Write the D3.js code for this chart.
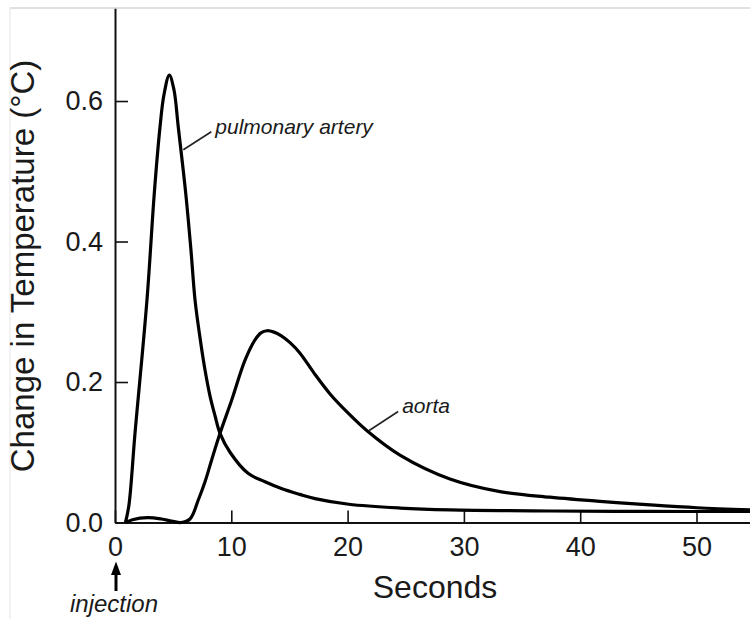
<!DOCTYPE html>
<html>
<head>
<meta charset="utf-8">
<script src="https://cdn.jsdelivr.net/npm/d3@7"></script>
<style>
  html, body { margin: 0; padding: 0; background: #fff; }
  svg { display: block; }
  text { font-family: "Liberation Sans", Arial, Helvetica, sans-serif; fill: #1a1a1a; }
</style>
</head>
<body>
<svg id="chart" width="750" height="619"></svg>
<script>
// Thermodilution curves: temperature change after a cold injection at t = 0
const pulmonaryTime  = [0.9, 1.2, 1.72, 2.75, 3.38, 3.87, 4.21, 4.67, 5.07, 5.44, 6.08, 6.53, 6.88, 7.31, 7.74, 8.17, 8.6, 9.03, 9.89, 11.44, 12.9, 14.36, 15.9, 17.2, 20.1, 24.5, 28.8, 37.4, 46.0, 54.6];
const pulmonaryValue = [0.0, 0.025, 0.127, 0.317, 0.469, 0.563, 0.609, 0.637, 0.616, 0.563, 0.469, 0.388, 0.317, 0.263, 0.217, 0.18, 0.152, 0.127, 0.1, 0.07, 0.058, 0.048, 0.04, 0.034, 0.026, 0.0206, 0.018, 0.0164, 0.0157, 0.0157];

const aortaTime  = [0.9, 1.5, 2.8, 4.0, 5.0, 5.67, 6.45, 7.16, 7.74, 8.31, 9.03, 10.03, 11.18, 12.04, 12.55, 13.07, 13.67, 14.27, 15.05, 15.91, 17.1, 18.49, 20.03, 21.64, 24.5, 28.8, 33.1, 37.4, 41.7, 46.0, 50.04, 54.6];
const aortaValue = [0.0, 0.004, 0.007, 0.005, 0.0015, 0.0, 0.005, 0.032, 0.058, 0.089, 0.127, 0.174, 0.231, 0.26, 0.27, 0.273, 0.271, 0.266, 0.256, 0.241, 0.213, 0.183, 0.156, 0.131, 0.096, 0.062, 0.044, 0.036, 0.03, 0.025, 0.021, 0.018];

const xTicks = [0, 10, 20, 30, 40, 50];
const xTickLabels = ["0", "10", "20", "30", "40", "50"];
const yTicks = [0, 0.2, 0.4, 0.6];
const yTickLabels = ["0.0", "0.2", "0.4", "0.6"];

const xMax = 54.6;
const yMax = 0.732;

const svg = d3.select("#chart");

const margin = { left: 115, top: 8.3, bottom: 522.5, right: 750 };

const x = d3.scaleLinear().domain([0, xMax]).range([margin.left, margin.right]);
const y = d3.scaleLinear().domain([0, yMax]).range([margin.bottom, margin.top]);

// thin frame lines at the top and left edge
svg.append("line").attr("x1", 10).attr("x2", 750).attr("y1", 8).attr("y2", 8)
  .attr("stroke", "#c2c2c2").attr("stroke-width", 1.2);
svg.append("line").attr("x1", 10).attr("x2", 10).attr("y1", 8).attr("y2", 619)
  .attr("stroke", "#e6e6e6").attr("stroke-width", 1);

// axes
const yAxis = d3.axisLeft(y)
  .tickValues(yTicks)
  .tickFormat((d, i) => yTickLabels[i])
  .tickSizeInner(-13)
  .tickSizeOuter(0)
  .tickPadding(12);

const xAxis = d3.axisBottom(x)
  .tickValues(xTicks)
  .tickFormat((d, i) => xTickLabels[i])
  .tickSizeInner(-12)
  .tickSizeOuter(0)
  .tickPadding(14);

const gy = svg.append("g").attr("transform", `translate(${margin.left},0)`).call(yAxis);
const gx = svg.append("g").attr("transform", `translate(0,${margin.bottom})`).call(xAxis);

[gy, gx].forEach(g => {
  g.select(".domain").attr("stroke", "#111").attr("stroke-width", 2);
  g.selectAll(".tick line").attr("stroke", "#111").attr("stroke-width", 1.6);
  g.selectAll(".tick text")
    .attr("font-family", "'Liberation Sans', Arial, sans-serif")
    .attr("font-size", 27)
    .attr("fill", "#2a2a2a");
});

// curves
const line = d3.line()
  .x(d => x(d[0]))
  .y(d => y(d[1]))
  .curve(d3.curveCatmullRom.alpha(0.5));

const pulmonary = d3.zip(pulmonaryTime, pulmonaryValue);
const aorta = d3.zip(aortaTime, aortaValue);

[aorta, pulmonary].forEach(series => {
  svg.append("path").datum(series)
    .attr("d", line)
    .attr("fill", "none")
    .attr("stroke", "#000")
    .attr("stroke-width", 3.2)
    .attr("stroke-linejoin", "round");
});

// labels with leader lines, anchored on the curves
function valueAt(times, values, t) {
  const i = d3.bisectRight(times, t);
  const t0 = times[i - 1], t1 = times[i];
  const v0 = values[i - 1], v1 = values[i];
  return v0 + (v1 - v0) * (t - t0) / (t1 - t0);
}

const annotations = [
  { text: "pulmonary artery", times: pulmonaryTime, values: pulmonaryValue, t: 5.66, dx: 28, dy: -18 },
  { text: "aorta", times: aortaTime, values: aortaValue, t: 21.64, dx: 29, dy: -19 }
];

annotations.forEach(a => {
  const px = x(a.t) + 2.5;
  const py = y(valueAt(a.times, a.values, a.t));
  svg.append("line")
    .attr("x1", px).attr("y1", py)
    .attr("x2", px + a.dx).attr("y2", py + a.dy)
    .attr("stroke", "#222").attr("stroke-width", 1.6);
  svg.append("text")
    .attr("x", px + a.dx + 4)
    .attr("y", py + a.dy + 2)
    .attr("font-size", 21)
    .attr("font-style", "italic")
    .attr("fill", "#222")
    .text(a.text);
});

// injection marker below the origin
const arrowX = x(0) + 1;
svg.append("line")
  .attr("x1", arrowX).attr("x2", arrowX)
  .attr("y1", 591).attr("y2", 572)
  .attr("stroke", "#000").attr("stroke-width", 3);
svg.append("path")
  .attr("d", d3.line()([[arrowX, 561.5], [arrowX - 5, 575], [arrowX + 5, 575]]) + "Z")
  .attr("fill", "#000");
svg.append("text")
  .attr("x", 70).attr("y", 612)
  .attr("font-size", 24)
  .attr("font-style", "italic")
  .attr("fill", "#222")
  .text("injection");

// axis titles
svg.append("text")
  .attr("x", 435).attr("y", 598)
  .attr("text-anchor", "middle")
  .attr("font-size", 32)
  .attr("fill", "#222")
  .text("Seconds");

svg.append("text")
  .attr("transform", "translate(34,266) rotate(-90)")
  .attr("text-anchor", "middle")
  .attr("font-size", 33)
  .attr("fill", "#222")
  .text("Change in Temperature (°C)");
</script>
</body>
</html>
